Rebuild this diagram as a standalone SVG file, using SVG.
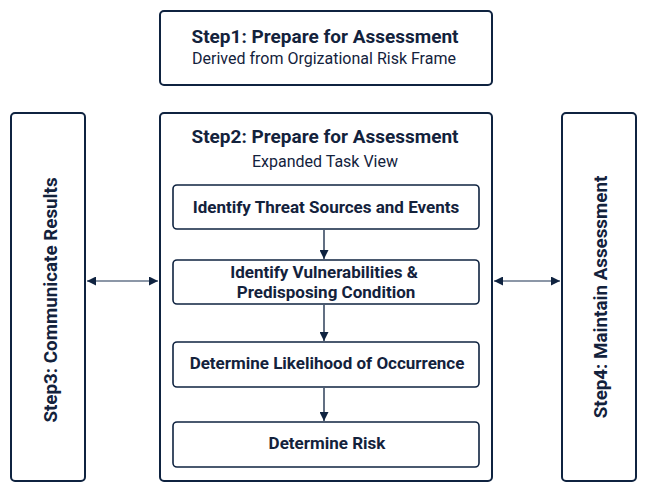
<svg xmlns="http://www.w3.org/2000/svg" width="647" height="489" viewBox="0 0 647 489">
<style>
.box{fill:#ffffff;stroke:#0f2340;stroke-width:2}
.inner{fill:#ffffff;stroke:#0f2340;stroke-width:1.6}
.t{font-family:Roboto,"Liberation Sans",sans-serif;fill:#13223c;text-anchor:middle}
.h{font-size:19px;font-weight:700}
.s{font-size:16px;font-weight:400}
.b{font-size:17px;font-weight:700}
.vt{font-size:18.8px;font-weight:700}
.v{stroke:#0f2340;stroke-width:1.3;fill:none}
.hz{stroke:#66758a;stroke-width:1.6;fill:none}
</style>
<defs>
<marker id="ah" viewBox="0 0 10 10" refX="10" refY="5" markerWidth="9" markerHeight="9" markerUnits="userSpaceOnUse" orient="auto-start-reverse">
<path d="M0,0 L10,5 L0,10 Z" fill="#0f2340"/>
</marker>
</defs>
<rect width="647" height="489" fill="#ffffff"/>
<g id="step1">
<rect class="box" x="160" y="11" width="332" height="74" rx="4"/>
<text class="t h" x="325" y="43">Step1: Prepare for Assessment</text>
<text class="t s" x="324" y="64">Derived from Orgizational Risk Frame</text>
</g>
<g id="step2">
<rect class="box" x="160" y="113" width="332" height="368" rx="4"/>
<text class="t h" x="325" y="143">Step2: Prepare for Assessment</text>
<text class="t s" x="325" y="167">Expanded Task View</text>
</g>
<g id="task1">
<rect class="inner" x="173" y="185" width="306" height="44" rx="4"/>
<text class="t b" x="326" y="213">Identify Threat Sources and Events</text>
</g>
<g id="task2">
<rect class="inner" x="173" y="260" width="306" height="44" rx="4"/>
<text class="t b" x="324" y="278">Identify Vulnerabilities &amp;</text>
<text class="t b" x="326" y="298">Predisposing Condition</text>
</g>
<g id="task3">
<rect class="inner" x="173" y="342" width="306" height="45" rx="4"/>
<text class="t b" x="327" y="369">Determine Likelihood of Occurrence</text>
</g>
<g id="task4">
<rect class="inner" x="173" y="422" width="306" height="45" rx="4"/>
<text class="t b" x="327" y="449">Determine Risk</text>
</g>
<g id="step3">
<rect class="box" x="11" y="113" width="74" height="368" rx="4"/>
<text class="t vt" transform="translate(57,300) rotate(-90)" x="0" y="0">Step3: Communicate Results</text>
</g>
<g id="step4">
<rect class="box" x="562" y="113" width="74" height="368" rx="4"/>
<text class="t vt" transform="translate(607,297) rotate(-90)" x="0" y="0">Step4: Maintain Assessment</text>
</g>
<g id="connectors">
<line class="v" x1="324" y1="230" x2="324" y2="259" marker-end="url(#ah)"/>
<line class="v" x1="324" y1="305" x2="324" y2="341" marker-end="url(#ah)"/>
<line class="v" x1="324" y1="388" x2="324" y2="421" marker-end="url(#ah)"/>
<line class="hz" x1="87" y1="281" x2="158" y2="281" marker-start="url(#ah)" marker-end="url(#ah)"/>
<line class="hz" x1="494" y1="281" x2="560" y2="281" marker-start="url(#ah)" marker-end="url(#ah)"/>
</g>
</svg>
